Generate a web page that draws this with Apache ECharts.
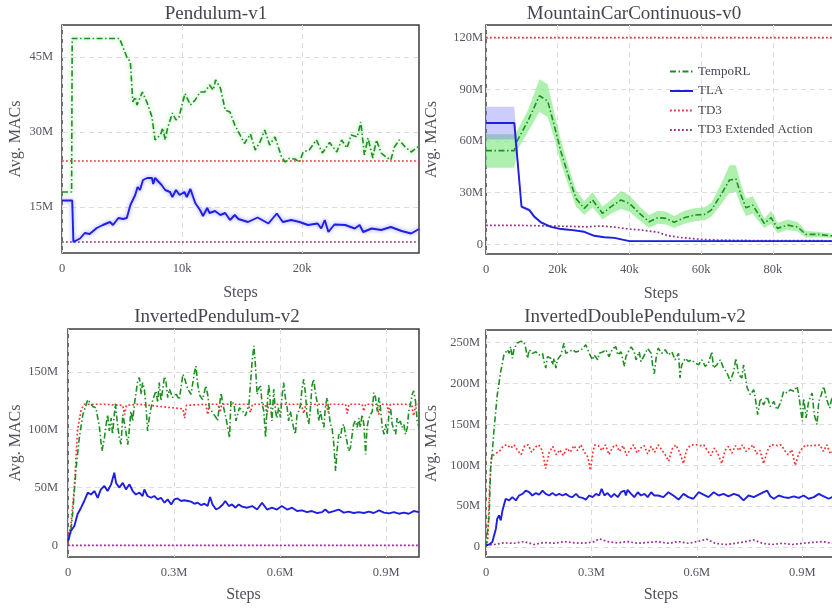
<!DOCTYPE html>
<html>
<head>
<meta charset="utf-8">
<title>Avg. MACs per environment</title>
<script src="https://cdn.jsdelivr.net/npm/echarts@6/dist/echarts.min.js"></script>
<style>
  html, body { margin: 0; padding: 0; background: #ffffff; overflow: hidden; }
  #chart { width: 832px; height: 609px; }
</style>
</head>
<body>
<div id="chart"></div>
<script>
// ---------------- data (steps in k or M, values in M MACs) ----------------

// Pendulum-v1 (steps in k)
const pendTempoRL = [[0,18],[0.8,18],[0.85,48.7],[4.8,48.7],[5.4,45],[5.7,44],[5.9,36],[6.1,37],[6.25,35.4],[6.7,38],[7.1,35.8],[7.5,33],[7.75,28.4],[8.2,29.4],[8.4,30.8],[8.6,28.4],[8.8,30.8],[9.2,33.8],[9.5,32.4],[9.75,33],[10.25,37.7],[10.7,35.4],[11.1,36.4],[11.5,38],[11.9,38],[12.3,39.4],[12.6,38.4],[12.8,40.4],[13.2,38.8],[13.6,34.4],[14,34],[14.4,31.4],[14.8,29.6],[15.2,27.7],[15.7,29.6],[16.1,26.4],[16.5,28],[16.9,30.4],[17.3,27.4],[17.75,29],[18.3,25],[18.6,24],[18.9,24.7],[19.4,24.6],[19.8,24],[20.1,26],[20.6,26.4],[21.2,28.4],[21.7,25.8],[22.3,27.9],[22.9,26],[23.3,28.4],[23.75,26.8],[24.1,29.4],[24.6,29],[24.9,32],[25.2,25.4],[25.5,28.8],[25.9,24.8],[26.2,28.4],[26.6,25.8],[27,25],[27.4,24.4],[27.7,27],[28.1,28.4],[28.6,27],[29.1,26],[29.75,27.2]];
const pendTLA = [[0,16.3],[0.85,16.3],[0.95,8],[1.5,8.7],[1.9,9.8],[2.3,9.6],[2.9,10.8],[3.4,11.4],[4,12],[4.25,11.4],[4.7,12.8],[5.1,12.6],[5.4,12.8],[5.7,15.4],[6.1,17.4],[6.3,19],[6.5,18.4],[6.75,20.4],[7.1,20.8],[7.5,20.8],[7.6,19.6],[7.75,20.8],[7.9,21.2],[8.3,19.4],[8.6,18.4],[9,18],[9.2,17],[9.5,18.4],[9.8,17.4],[10.2,18],[10.4,17],[10.7,18.6],[11.1,15.8],[11.5,14.4],[11.75,13.2],[12.1,14.8],[12.3,13.8],[12.75,14.2],[13.2,13.4],[13.6,13.8],[14,12.4],[14.4,13.4],[14.7,12.6],[15.5,12],[16.3,12.9],[17.2,11.7],[17.9,13.7],[18.4,12],[19.1,12.4],[19.8,12],[20.5,11.4],[21.3,11.7],[21.6,10.7],[21.9,12.4],[22.2,10],[22.7,11.5],[23.6,11.4],[24.4,10.7],[24.8,11.4],[25.1,10],[25.8,10.7],[26.6,10.4],[27.4,11],[28.3,10.2],[29.1,9.7],[29.75,10.6]];
const pendTD3 = [[0,24.2],[29.75,24.2]];
const pendExt = [[0,8],[29.75,8]];

// MountainCarContinuous-v0 (steps in k)
const mcTempoSteps = [0,7.9,8.8,11.6,14.9,17.2,19,20.9,23.2,25.1,27.4,29.7,32.5,34.9,37.6,40,42.8,45.5,47.9,50.2,52.5,55.3,58.1,60.9,62.8,65.5,67.9,69.7,71.1,72.5,74.4,75.8,77.6,79.5,81.3,84.1,86.9,89.2,92.5,96.2,97.6];
const mcTempoMean = [54.5,54.5,60.6,71.3,86.4,83.3,69.4,53.8,38.4,26.7,20.9,25.8,18,21.9,25.8,23.8,18,13.1,15.5,15.1,12.8,15.5,17,17.4,19.9,28.7,37.4,38,28.7,21.3,22.8,18,12.2,15.5,9.3,11.2,10.1,5.8,5.8,5,4.6];
const mcTempoLow = [44.5,44.5,55,65,77,74,62,47,33,22,17,21.5,14.5,18,20.5,19,14,9.5,12,11.5,9.5,12,13.5,14,16,23,30,30.5,22.5,16.5,18,14,9.5,12,6.5,8.5,7.5,4,4.2,3.8,3.6];
const mcTempoHigh = [64,64,66.5,77.5,96,93,77,60.5,44,31.5,25,30.5,22,26,31,28.5,22,17,19.5,19,16.5,19.5,21,21.5,24,35,46,46,35,26.5,28,22.5,15,19.5,12.5,14.5,13,7.8,7.4,6.3,5.6];
const mcTLASteps = [0,7.9,9.9,12.1,13.5,15.3,18.1,20.9,24.2,27.4,30.2,33,35.8,40,97.6];
const mcTLAMean = [70.5,70.5,21.9,19.9,16,12.8,10.2,8.9,8.3,7.3,5,4.1,3.8,1.9,1.9];
const mcTLALow = [61,61,21,19,15,12,9.6,8.4,7.8,6.8,4.6,3.7,3.4,1.6,1.6];
const mcTLAHigh = [80,80,22.8,20.8,17,13.6,10.8,9.4,8.8,7.8,5.4,4.5,4.2,2.2,2.2];
const mcTD3 = [[0,120.2],[97.6,120.2]];
const mcExt = [[0,11],[10,11],[20,10.6],[28,10.2],[32,10.7],[36,10],[40,8.9],[44,8.2],[48,7],[50.7,5],[55,3.8],[60,2.9],[65,2.5],[75,2.2],[97.6,2.1]];

// InvertedPendulum-v2 (steps in M)
const ipTempoRL = [[0,3],[0.007,10],[0.013,27],[0.023,67],[0.032,93],[0.042,113],[0.056,126],[0.07,120],[0.079,119],[0.089,102],[0.096,81.6],[0.103,93],[0.108,104.7],[0.112,113],[0.117,99],[0.122,110],[0.126,96],[0.134,122.6],[0.14,105],[0.145,93.5],[0.15,87.4],[0.155,113],[0.162,102],[0.169,87],[0.174,102],[0.178,116],[0.183,107.6],[0.188,122],[0.192,130.6],[0.197,142],[0.202,145],[0.207,130.6],[0.211,140.7],[0.216,135],[0.221,119],[0.225,99],[0.23,110.4],[0.235,119],[0.24,126],[0.244,127.7],[0.249,133.5],[0.254,123.4],[0.258,140.7],[0.263,125],[0.268,135],[0.273,146],[0.277,142],[0.282,127.7],[0.287,135],[0.292,133.5],[0.296,127.7],[0.306,130.6],[0.315,126],[0.325,147.9],[0.329,145],[0.339,135],[0.348,130.6],[0.358,149.9],[0.362,155],[0.367,139],[0.372,130],[0.376,131.7],[0.381,126],[0.39,138],[0.395,130.6],[0.4,119],[0.409,114.8],[0.419,110.4],[0.423,107.6],[0.433,131.7],[0.438,122],[0.447,110],[0.457,93],[0.461,125],[0.47,122],[0.475,107.6],[0.485,119],[0.494,116],[0.502,112],[0.512,122],[0.521,159.5],[0.526,172.5],[0.53,156.6],[0.535,130.6],[0.54,136],[0.545,137.8],[0.549,122],[0.554,116],[0.559,93],[0.563,119],[0.568,139],[0.573,122],[0.577,107.6],[0.582,135],[0.587,116],[0.591,110],[0.596,119],[0.601,110.4],[0.605,127.7],[0.61,140.7],[0.615,127.7],[0.62,119],[0.624,107.6],[0.629,116],[0.634,107.6],[0.638,102],[0.643,96],[0.648,113],[0.653,116],[0.657,120.5],[0.662,135],[0.667,143.6],[0.672,130.6],[0.676,113],[0.681,104.7],[0.686,119],[0.69,137.8],[0.695,143.6],[0.7,132],[0.705,123.4],[0.709,107.6],[0.714,116],[0.719,107.6],[0.724,102],[0.728,119],[0.733,127.7],[0.738,116],[0.742,104.7],[0.747,102],[0.752,87.4],[0.757,64.3],[0.761,81.6],[0.766,96],[0.771,93],[0.775,102],[0.78,104.7],[0.785,96],[0.789,90],[0.794,81.6],[0.799,84.5],[0.804,96],[0.808,104.7],[0.813,107.6],[0.818,102],[0.823,110],[0.827,102],[0.832,113],[0.837,104.7],[0.842,78.7],[0.846,102],[0.851,110],[0.856,113],[0.861,116],[0.865,132],[0.87,127.7],[0.875,116],[0.88,127.7],[0.884,119],[0.889,102],[0.894,96],[0.899,104.7],[0.903,96],[0.908,113],[0.913,117.6],[0.917,104.7],[0.922,104.7],[0.927,96],[0.931,110],[0.936,104.7],[0.94,107.6],[0.945,102],[0.95,104.7],[0.955,96],[0.96,102],[0.964,116],[0.969,122],[0.974,130.6],[0.978,133.5],[0.983,125],[0.988,107.6],[0.993,102]];
const ipTLA = [[0,4],[0.008,12.4],[0.018,16.8],[0.027,27],[0.037,32.6],[0.046,38.4],[0.056,45.6],[0.065,44],[0.075,47],[0.084,41],[0.093,48.4],[0.103,51.3],[0.112,47],[0.122,52.8],[0.131,62.9],[0.136,54],[0.145,50],[0.155,54],[0.164,48.4],[0.174,52.8],[0.183,47],[0.192,44],[0.202,45.6],[0.211,42.7],[0.216,48.4],[0.225,42.7],[0.235,41.2],[0.244,42.7],[0.254,39.8],[0.263,41.2],[0.273,36.9],[0.282,39.8],[0.292,35.4],[0.301,39.8],[0.31,40.6],[0.32,38.4],[0.329,39],[0.339,38.4],[0.348,37.8],[0.358,36],[0.367,36.9],[0.376,34.9],[0.386,36],[0.395,34],[0.402,41.8],[0.409,35.4],[0.419,31],[0.428,32.6],[0.438,35.4],[0.445,38.4],[0.455,34],[0.464,35.4],[0.474,32.6],[0.483,35.4],[0.4925,33.5],[0.507,32.6],[0.521,34],[0.535,31],[0.549,36.9],[0.563,31],[0.577,32.6],[0.591,31],[0.605,34],[0.62,31],[0.634,32.6],[0.648,29.7],[0.662,30.3],[0.676,28.8],[0.69,29.7],[0.705,28],[0.719,28.8],[0.728,31],[0.738,28.3],[0.752,29.7],[0.766,31],[0.78,28.3],[0.794,29.2],[0.808,28],[0.823,28.8],[0.837,28],[0.851,29.2],[0.865,28],[0.88,30.3],[0.894,28.3],[0.908,27.7],[0.922,28.8],[0.936,27.4],[0.95,28.3],[0.964,27.4],[0.978,29.7],[0.993,28.8]];
const ipTD3 = [[0,2],[0.009,20],[0.018,50],[0.027,100],[0.037,117],[0.046,122],[0.1,122],[0.155,121],[0.16,113],[0.165,121],[0.2,122],[0.325,118],[0.33,110],[0.335,121],[0.39,122],[0.395,113],[0.4,122],[0.425,122],[0.43,115],[0.435,122],[0.51,122],[0.516,115],[0.522,122],[0.558,122],[0.563,113],[0.568,122],[0.66,122],[0.667,114],[0.673,122],[0.73,122],[0.736,115],[0.742,122],[0.785,122],[0.79,114],[0.795,122],[0.832,122],[0.837,116],[0.842,122],[0.874,122],[0.879,113],[0.884,122],[0.902,122],[0.907,115],[0.912,122],[0.972,122],[0.978,112],[0.984,122],[0.993,122]];
const ipExt = [[0,0],[0.993,0]];

// InvertedDoublePendulum-v2 (steps in M)
const idpTempoRL = [[0,0],[0.002,2],[0.009,39],[0.013,96],[0.018,117],[0.023,145],[0.032,186],[0.042,215],[0.051,235],[0.061,241.5],[0.066,237],[0.07,245],[0.075,231],[0.08,243],[0.089,249.6],[0.099,251.7],[0.108,251],[0.113,243.5],[0.118,231],[0.123,241.5],[0.132,237],[0.142,239],[0.151,235],[0.161,237],[0.165,227],[0.17,219],[0.175,233],[0.184,231],[0.189,223],[0.194,231],[0.199,219],[0.203,229],[0.213,235],[0.222,249.6],[0.227,237],[0.237,239],[0.246,241.5],[0.256,238.6],[0.265,240],[0.275,242.7],[0.284,247.6],[0.294,237],[0.303,229],[0.308,235],[0.318,229],[0.322,237],[0.332,238.6],[0.341,241.5],[0.35,233],[0.36,242.7],[0.37,245],[0.375,235],[0.384,239],[0.394,221],[0.398,233],[0.408,241.5],[0.413,245],[0.422,239],[0.427,229],[0.436,239],[0.441,227],[0.451,235],[0.46,243],[0.47,237],[0.474,223],[0.479,212],[0.484,231],[0.49,243.5],[0.5,237],[0.51,241.5],[0.519,235],[0.529,239],[0.538,229],[0.548,237],[0.552,207],[0.557,223],[0.567,231],[0.576,227],[0.586,229],[0.595,225],[0.605,223],[0.614,229],[0.624,221],[0.633,225],[0.643,239],[0.647,219],[0.657,223],[0.667,229],[0.676,219],[0.686,213],[0.695,203],[0.705,215],[0.711,231],[0.719,211],[0.728,207],[0.733,223],[0.743,195],[0.752,186.4],[0.762,192.5],[0.767,180],[0.773,162],[0.781,182],[0.79,174],[0.8,184],[0.809,172],[0.819,178],[0.828,168],[0.838,176],[0.847,190.6],[0.857,188.5],[0.866,192.5],[0.876,190.6],[0.885,196.5],[0.89,186.4],[0.9,154],[0.904,182],[0.911,158],[0.918,178],[0.928,188.5],[0.934,162],[0.942,150],[0.947,178],[0.954,186.4],[0.961,196.5],[0.97,180],[0.978,170],[0.985,184],[0.996,168]];
const idpTLA = [[0,2],[0.009,3],[0.018,6],[0.028,22],[0.032,34.6],[0.037,38.6],[0.042,32.5],[0.047,45],[0.056,59],[0.066,57],[0.075,61],[0.085,57],[0.094,63],[0.104,65],[0.113,69],[0.123,67],[0.132,63],[0.142,66],[0.151,64],[0.161,69],[0.17,65],[0.18,63],[0.189,66],[0.199,63],[0.208,65],[0.218,63],[0.227,65],[0.237,62],[0.246,61],[0.256,65],[0.265,61],[0.275,60],[0.284,58],[0.294,63],[0.303,61],[0.313,65],[0.322,63],[0.329,71],[0.337,63],[0.346,66],[0.356,61],[0.365,65],[0.375,61],[0.384,67],[0.394,69],[0.398,63],[0.403,70],[0.413,65],[0.422,61],[0.432,67],[0.441,63],[0.451,65],[0.46,61],[0.47,67],[0.479,63],[0.49,63],[0.505,61],[0.519,67],[0.533,63],[0.548,58],[0.562,65],[0.576,61],[0.59,59],[0.605,67],[0.619,64],[0.633,61],[0.648,67],[0.662,63],[0.676,65],[0.69,62],[0.705,65],[0.719,63],[0.733,57],[0.747,63],[0.762,61],[0.776,64],[0.79,67],[0.8,69],[0.809,62],[0.819,59],[0.833,63],[0.847,61],[0.861,60],[0.876,62],[0.89,60],[0.904,63],[0.918,59],[0.933,61],[0.947,65],[0.961,62],[0.975,59],[0.985,61],[0.996,60]];
const idpTD3 = [[0,0],[0.005,8],[0.01,70],[0.015,108],[0.02,112],[0.03,115],[0.04,118],[0.05,124],[0.06,125],[0.07,121],[0.08,125],[0.09,118],[0.1,113],[0.11,124],[0.12,125],[0.13,116],[0.14,122],[0.15,125],[0.16,118],[0.17,96],[0.18,116],[0.19,123],[0.2,113],[0.21,119],[0.22,112],[0.23,121],[0.24,116],[0.25,124],[0.26,118],[0.27,125],[0.28,116],[0.29,110],[0.297,94],[0.305,118],[0.31,125],[0.32,124],[0.33,118],[0.34,125],[0.35,113],[0.36,122],[0.37,125],[0.38,117],[0.39,124],[0.4,112],[0.41,119],[0.42,125],[0.43,115],[0.44,121],[0.45,124],[0.46,114],[0.47,123],[0.48,116],[0.49,125],[0.5,119],[0.51,113],[0.52,105],[0.53,120],[0.54,125],[0.55,117],[0.562,102],[0.57,118],[0.58,124],[0.59,125],[0.6,125],[0.61,124],[0.62,125],[0.63,118],[0.64,112],[0.65,121],[0.66,114],[0.671,102],[0.68,118],[0.69,123],[0.7,115],[0.71,124],[0.72,118],[0.73,125],[0.74,117],[0.75,121],[0.76,125],[0.77,114],[0.78,118],[0.79,102],[0.8,117],[0.81,125],[0.82,125],[0.83,124],[0.84,125],[0.85,118],[0.86,113],[0.87,119],[0.88,100],[0.89,114],[0.9,121],[0.91,125],[0.92,123],[0.93,125],[0.94,124],[0.95,125],[0.96,117],[0.97,125],[0.98,114],[0.99,118],[0.996,124]];
const idpExt = [[0,2],[0.023,3],[0.051,5],[0.08,4.5],[0.108,6.5],[0.137,3],[0.165,5.5],[0.194,4.5],[0.222,6.5],[0.251,5],[0.28,4.5],[0.308,6.5],[0.322,10],[0.346,6.5],[0.375,5],[0.403,6.5],[0.432,4.5],[0.46,5.5],[0.489,6.5],[0.518,4.5],[0.548,6.5],[0.576,4.5],[0.605,7],[0.628,9.5],[0.652,4.5],[0.681,3],[0.71,4.5],[0.738,6.5],[0.762,8.5],[0.786,4.5],[0.814,3],[0.843,4.5],[0.871,3],[0.9,4.5],[0.928,5.5],[0.957,6.5],[0.986,4.5],[0.996,5]];

// tick labels
const pendXTicks = [0, 10, 20];
const pendYTicks = [15, 30, 45];
const mcXTicks = [0, 20, 40, 60, 80];
const mcYTicks = [0, 30, 60, 90, 120];
const ipXTicks = [0, 0.3, 0.6, 0.9];
const ipYTicks = [0, 50, 100, 150];
const idpXTicks = [0, 0.3, 0.6, 0.9];
const idpYTicks = [0, 50, 100, 150, 200, 250];

const legendNames = ['TempoRL', 'TLA', 'TD3', 'TD3 Extended Action'];

// ---------------- styling ----------------
const FONT = 'Liberation Serif';
const COLORS = { tempo: '#1f8f24', tla: '#1f1fe0', td3: '#f03535', ext: '#9b2c98' };
const DASH_DOT = [6, 2.5, 1.5, 2.5];
const DOTTED = [1.8, 2.2];

const styleOf = {
  'TempoRL': { color: COLORS.tempo, width: 1.6, type: DASH_DOT },
  'TLA': { color: COLORS.tla, width: 1.9, type: 'solid' },
  'TD3': { color: COLORS.td3, width: 1.7, type: DOTTED },
  'TD3 Extended Action': { color: COLORS.ext, width: 1.7, type: DOTTED }
};

// rows of [step, low, high] for a shaded spread
const bandRows = (xs, lo, hi) => xs.map((x, i) => [x, lo[i], hi[i]]);
const zip = (xs, ys) => xs.map((x, i) => [x, ys[i]]);

const panels = [
  { title: 'Pendulum-v1', titleX: 211, titleY: 0,
    grid: { left: 62, top: 25, width: 357, height: 228 },
    xMax: 29.75, yMin: 5.8, yMax: 51.4, xTicks: pendXTicks, yTicks: pendYTicks, xUnit: 'k',
    yMargin: 9, yNameGap: 38, xNameGap: 32,
    lines: { 'TD3 Extended Action': pendExt, 'TD3': pendTD3, 'TempoRL': pendTempoRL, 'TLA': pendTLA },
    halo: true },
  { title: 'MountainCarContinuous-v0', titleX: 629, titleY: 0,
    grid: { left: 486, top: 25, width: 350, height: 229 },
    xMax: 97.6, yMin: -5.6, yMax: 127.5, xTicks: mcXTicks, yTicks: mcYTicks, xUnit: 'k',
    yMargin: 3, yNameGap: 46, xNameGap: 32,
    bands: [
      { rows: bandRows(mcTempoSteps, mcTempoLow, mcTempoHigh), color: 'rgba(120,232,120,0.6)' },
      { rows: bandRows(mcTLASteps, mcTLALow, mcTLAHigh), color: 'rgba(110,110,250,0.35)' }
    ],
    lines: { 'TD3 Extended Action': mcExt, 'TD3': mcTD3, 'TempoRL': zip(mcTempoSteps, mcTempoMean), 'TLA': zip(mcTLASteps, mcTLAMean) } },
  { title: 'InvertedPendulum-v2', titleX: 212, titleY: 303,
    grid: { left: 68, top: 329, width: 351, height: 228 },
    xMax: 0.993, yMin: -10, yMax: 187, xTicks: ipXTicks, yTicks: ipYTicks, xUnit: 'M',
    yMargin: 10, yNameGap: 43, xNameGap: 30,
    lines: { 'TD3 Extended Action': ipExt, 'TD3': ipTD3, 'TempoRL': ipTempoRL, 'TLA': ipTLA } },
  { title: 'InvertedDoublePendulum-v2', titleX: 630, titleY: 303,
    grid: { left: 486, top: 330, width: 350, height: 227 },
    xMax: 0.996, yMin: -12.3, yMax: 265.6, xTicks: idpXTicks, yTicks: idpYTicks, xUnit: 'M',
    yMargin: 6, yNameGap: 46, xNameGap: 30,
    lines: { 'TD3 Extended Action': idpExt, 'TD3': idpTD3, 'TempoRL': idpTempoRL, 'TLA': idpTLA } }
];

// ---------------- option ----------------
const labelText = { fontFamily: FONT, fontSize: 12.5, color: '#555560' };
const nameText = { fontFamily: FONT, fontSize: 16, color: '#50505c' };

const grids = [], xAxes = [], yAxes = [], titles = [], series = [];

panels.forEach((p, i) => {
  grids.push(Object.assign({ show: true, borderColor: '#3c3c3c', borderWidth: 1.5, backgroundColor: '#ffffff', outerBoundsMode: 'none', containLabel: false }, p.grid));
  titles.push({ text: p.title, left: p.titleX, top: p.titleY, textAlign: 'center',
    textStyle: { fontFamily: FONT, fontSize: 19, fontWeight: 'normal', color: '#45454f' } });

  const fmtX = v => (v === 0 ? '0' : (Math.round(v * 10) / 10) + p.xUnit);
  xAxes.push({
    type: 'value', gridIndex: i, min: 0, max: p.xMax,
    name: 'Steps', nameLocation: 'middle', nameGap: p.xNameGap, nameTextStyle: nameText,
    axisLine: { show: false },
    axisTick: { show: false, customValues: p.xTicks },
    axisLabel: Object.assign({ customValues: p.xTicks, margin: 9, formatter: fmtX }, labelText),
    splitLine: { show: true, lineStyle: { color: '#dcdcdc', width: 1, type: [5, 4] } }
  });
  yAxes.push({
    type: 'value', gridIndex: i, min: p.yMin, max: p.yMax,
    name: 'Avg. MACs', nameLocation: 'middle', nameGap: p.yNameGap, nameTextStyle: nameText,
    axisLine: { show: false },
    axisTick: { show: false, customValues: p.yTicks },
    axisLabel: Object.assign({ customValues: p.yTicks, margin: p.yMargin, formatter: v => (v === 0 ? '0' : v + 'M') }, labelText),
    splitLine: { show: true, lineStyle: { color: '#dcdcdc', width: 1, type: [5, 4] } }
  });

  // shaded spread: one polygon through the high edge and back along the low edge
  (p.bands || []).forEach(b => {
    series.push({
      type: 'custom', xAxisIndex: i, yAxisIndex: i, data: b.rows, silent: true, clip: true, z: 1,
      encode: { x: 0, y: [1, 2] },
      renderItem: (params, api) => {
        if (params.dataIndex !== 0) return null;
        const top = b.rows.map(r => api.coord([r[0], r[2]]));
        const bottom = b.rows.map(r => api.coord([r[0], r[1]])).reverse();
        return { type: 'polygon', shape: { points: top.concat(bottom) }, style: { fill: b.color } };
      }
    });
  });

  Object.keys(p.lines).forEach(name => {
    const st = styleOf[name];
    const ls = { color: st.color, width: st.width, type: st.type };
    if (p.halo && (name === 'TempoRL' || name === 'TLA')) {
      ls.shadowBlur = 4;
      ls.shadowColor = name === 'TempoRL' ? 'rgba(110,225,110,0.9)' : 'rgba(120,120,255,0.8)';
    }
    series.push({
      type: 'line', name, xAxisIndex: i, yAxisIndex: i, data: p.lines[name],
      symbol: 'none', showSymbol: false, itemStyle: { color: st.color }, lineStyle: ls, z: 3
    });
  });
});

const chart = echarts.init(document.getElementById('chart'), null, { renderer: 'canvas' });
chart.setOption({
  backgroundColor: '#ffffff',
  animation: false,
  title: titles,
  grid: grids,
  xAxis: xAxes,
  yAxis: yAxes,
  legend: {
    data: legendNames, orient: 'vertical', left: 669, top: 65, padding: 0,
    itemWidth: 23, itemHeight: 14, itemGap: 6.5,
    itemStyle: { opacity: 0, borderWidth: 0 },
    textStyle: { fontFamily: FONT, fontSize: 13, color: '#45454f' },
    selectedMode: false
  },
  series
});
</script>
</body>
</html>
